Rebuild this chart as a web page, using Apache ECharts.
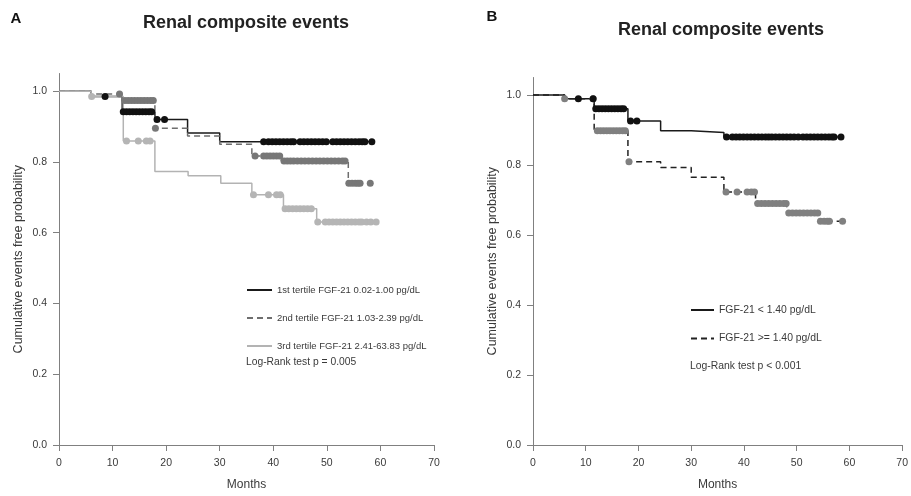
<!DOCTYPE html>
<html>
<head>
<meta charset="utf-8">
<script src="https://cdn.jsdelivr.net/npm/echarts@6/dist/echarts.min.js"></script>
<style>
  html, body { margin: 0; padding: 0; background: #fff; }
  #chart { width: 911px; height: 496px; }
</style>
</head>
<body>
<div id="chart"></div>
<script>
// Kaplan-Meier steps: [month, survival]; last pair is end of follow-up
const tertile1Steps = [[0, 1.0], [6, 0.985], [11.8, 0.942], [17.9, 0.920], [24, 0.882], [30, 0.857], [58.4, 0.857]]
const tertile2Steps = [[0, 1.0], [6, 0.992], [11.8, 0.974], [17.9, 0.895], [24, 0.873], [30, 0.850], [36, 0.817], [41.5, 0.803], [54, 0.740], [58.1, 0.740]]
const tertile3Steps = [[0, 1.0], [6, 0.985], [12, 0.859], [17.9, 0.773], [24.1, 0.761], [30.2, 0.740], [36, 0.707], [41.9, 0.668], [48.1, 0.630], [59.3, 0.630]]

const tertile1Censor = [8.6, 12.0, 12.6, 13.2, 13.8, 14.4, 15.0, 15.6, 16.2, 16.8, 17.3, 18.3, 19.7,
  38.2, 39.1, 39.8, 40.5, 41.2, 41.9, 42.6, 43.3, 43.8, 45.0, 45.7, 46.4, 47.1, 47.8, 48.5, 49.2, 49.9,
  51.1, 51.8, 52.5, 53.2, 53.9, 54.6, 55.3, 56.0, 56.6, 57.1, 58.4]
const tertile2Censor = [11.3, 12.3, 12.9, 13.5, 14.1, 14.7, 15.3, 15.9, 16.5, 17.1, 17.6, 18.0,
  36.6, 38.2, 38.8, 39.4, 40.0, 40.6, 41.2, 42.0, 42.6, 43.2, 43.8, 44.5, 45.2, 45.9, 46.6, 47.3, 48.0,
  48.7, 49.4, 50.1, 50.8, 51.5, 52.2, 52.9, 53.4, 54.1, 54.7, 55.3, 55.8, 56.2, 58.1]
const tertile3Censor = [6.1, 12.6, 14.8, 16.3, 17.0, 36.3, 39.1, 40.6, 41.3, 42.2, 42.9, 43.6, 44.3,
  45.0, 45.7, 46.4, 47.1, 48.3, 49.7, 50.4, 51.1, 51.8, 52.5, 53.2, 53.9, 54.6, 55.3, 56.0, 56.5,
  57.4, 58.2, 59.2]

const lowSteps = [[0, 1.0], [6, 0.989], [11.6, 0.961], [18, 0.926], [24.2, 0.898], [30, 0.893], [36.2, 0.880], [58.4, 0.880]]
const highSteps = [[0, 1.0], [6, 0.989], [11.6, 0.898], [18, 0.809], [24.2, 0.793], [30, 0.765], [36.2, 0.723], [42.2, 0.690], [48.1, 0.663], [54.3, 0.639], [59.4, 0.639]]

const lowCensor = [8.6, 11.4, 11.9, 12.5, 13.1, 13.7, 14.3, 14.9, 15.5, 16.1, 16.7, 17.2, 18.5, 19.7,
  36.7, 37.8, 38.5, 39.2, 39.9, 40.6, 41.3, 42.0, 42.7, 43.4, 44.1, 44.7, 45.3, 46.0, 46.7, 47.4,
  48.1, 48.8, 49.5, 50.3, 51.2, 51.9, 52.6, 53.3, 54.0, 54.7, 55.4, 56.1, 56.7, 57.1, 58.4]
const highCensor = [6.0, 11.4, 12.2, 12.8, 13.4, 14.0, 14.6, 15.2, 15.8, 16.4, 17.0, 17.5, 18.2,
  36.6, 38.7, 40.6, 41.4, 42.0, 42.6, 43.3, 44.0, 44.7, 45.4, 46.1, 46.8, 47.5, 48.0, 48.5, 49.2,
  49.9, 50.6, 51.3, 52.0, 52.7, 53.4, 54.0, 54.5, 55.2, 55.8, 56.2, 58.7]

const yTicks = [0, 0.2, 0.4, 0.6, 0.8, 1.0]
const legendA = ['1st tertile FGF-21 0.02-1.00 pg/dL', '2nd tertile FGF-21 1.03-2.39 pg/dL', '3rd tertile FGF-21 2.41-63.83 pg/dL']
const legendB = ['FGF-21 < 1.40 pg/dL', 'FGF-21 >= 1.40 pg/dL']

const FONT = '"Liberation Sans", Arial, sans-serif'
const TEXT = '#3a3a3a'
const AXIS = '#808080'

// survival value at time t read from the step list
const survivalAt = (steps, t) => {
  let s = steps[0][1]
  for (const [time, value] of steps) {
    if (time <= t) s = value
  }
  return s
}

const censorPoints = (steps, times) => times.map(t => [t, survivalAt(steps, t)])

const makeX = gridIndex => ({
  type: 'value',
  gridIndex,
  min: 0,
  max: 70,
  interval: 10,
  name: 'Months',
  nameLocation: 'middle',
  nameGap: 34,
  nameTextStyle: {fontSize: 12, color: TEXT, fontFamily: FONT},
  axisLine: {lineStyle: {color: AXIS}},
  axisTick: {length: 6, lineStyle: {color: AXIS}},
  axisLabel: {fontSize: 10.5, color: TEXT, fontFamily: FONT, margin: 13},
  splitLine: {show: false},
})

const makeY = gridIndex => ({
  type: 'value',
  gridIndex,
  min: 0,
  max: 1.05,
  name: 'Cumulative events free probability',
  nameLocation: 'middle',
  nameGap: 34,
  nameTextStyle: {fontSize: 12.5, color: TEXT, fontFamily: FONT},
  axisLine: {show: true, lineStyle: {color: AXIS}},
  axisTick: {show: true, length: 6, lineStyle: {color: AXIS}, customValues: yTicks},
  axisLabel: {fontSize: 10.5, color: TEXT, fontFamily: FONT, margin: 12, customValues: yTicks,
    formatter: v => v.toFixed(1)},
  splitLine: {show: false},
})

const lineSeries = (name, steps, idx, color, dashed) => ({
  name,
  type: 'line',
  xAxisIndex: idx,
  yAxisIndex: idx,
  step: 'end',
  symbol: 'none',
  data: steps,
  lineStyle: {color, width: 1.5, type: dashed ? [6, 4] : 'solid'},
  itemStyle: {color},
  z: 2,
})

const dotSeries = (name, steps, times, idx, color) => ({
  name,
  type: 'scatter',
  xAxisIndex: idx,
  yAxisIndex: idx,
  symbol: 'circle',
  symbolSize: 7,
  data: censorPoints(steps, times),
  itemStyle: {color, opacity: 1},
  z: 3,
})

const chart = echarts.init(document.getElementById('chart'))

chart.setOption({
  animation: false,
  textStyle: {fontFamily: FONT},
  grid: [
    {left: 59, right: 477, top: 73.5, bottom: 47.7},
    {left: 533, right: 4, top: 77.5, bottom: 43.7},
  ],
  xAxis: [makeX(0), makeX(1)],
  yAxis: [makeY(0), makeY(1)],
  legend: [
    {
      data: legendA,
      orient: 'vertical',
      left: 241,
      top: 280,
      itemWidth: 25,
      itemHeight: 12,
      itemGap: 18,
      selectedMode: false,
      itemStyle: {opacity: 0},
      textStyle: {fontSize: 9.5, color: TEXT, fontFamily: FONT},
    },
    {
      data: legendB,
      orient: 'vertical',
      left: 685,
      top: 300,
      itemWidth: 23,
      itemHeight: 12,
      itemGap: 18.4,
      selectedMode: false,
      itemStyle: {opacity: 0},
      textStyle: {fontSize: 10.4, color: TEXT, fontFamily: FONT},
    },
  ],
  graphic: [
    {type: 'text', x: 16, y: 19, style: {text: 'A', font: 'bold 15px ' + FONT, fill: '#111', align: 'center', verticalAlign: 'middle'}},
    {type: 'text', x: 246, y: 23.5, style: {text: 'Renal composite events', font: 'bold 18px ' + FONT, fill: '#222', align: 'center', verticalAlign: 'middle'}},
    {type: 'text', x: 492, y: 17, style: {text: 'B', font: 'bold 15px ' + FONT, fill: '#111', align: 'center', verticalAlign: 'middle'}},
    {type: 'text', x: 721, y: 30, style: {text: 'Renal composite events', font: 'bold 18px ' + FONT, fill: '#222', align: 'center', verticalAlign: 'middle'}},
    {type: 'text', x: 246, y: 362, style: {text: 'Log-Rank test p = 0.005', font: '10.3px ' + FONT, fill: TEXT, align: 'left', verticalAlign: 'middle'}},
    {type: 'text', x: 690, y: 366, style: {text: 'Log-Rank test p < 0.001', font: '10.4px ' + FONT, fill: TEXT, align: 'left', verticalAlign: 'middle'}},
  ],
  series: [
    lineSeries(legendA[0], tertile1Steps, 0, '#1a1a1a', false),
    lineSeries(legendA[1], tertile2Steps, 0, '#6e6e6e', true),
    lineSeries(legendA[2], tertile3Steps, 0, '#b3b3b3', false),
    lineSeries(legendB[0], lowSteps, 1, '#1a1a1a', false),
    lineSeries(legendB[1], highSteps, 1, '#222222', true),
    dotSeries('t3 censored', tertile3Steps, tertile3Censor, 0, '#b5b5b5'),
    dotSeries('t2 censored', tertile2Steps, tertile2Censor, 0, '#777777'),
    dotSeries('t1 censored', tertile1Steps, tertile1Censor, 0, '#111111'),
    dotSeries('high censored', highSteps, highCensor, 1, '#808080'),
    dotSeries('low censored', lowSteps, lowCensor, 1, '#111111'),
  ],
})
</script>
</body>
</html>
